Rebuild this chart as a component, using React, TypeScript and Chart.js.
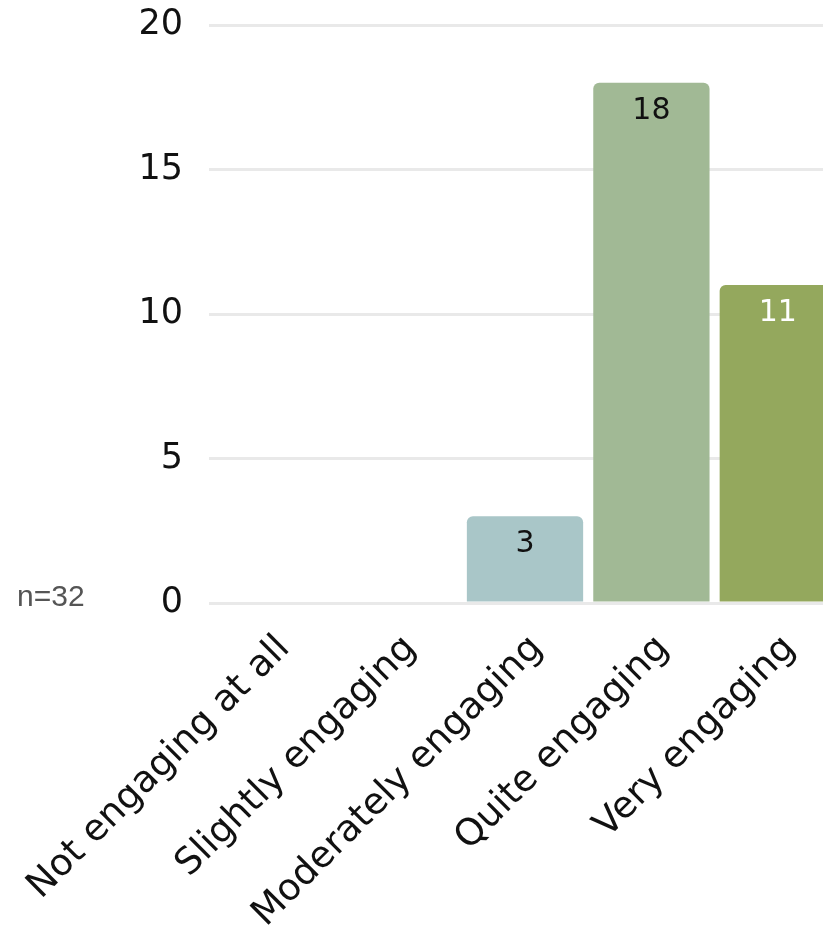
import { useEffect, useRef } from "react";
import { Chart, registerables } from "chart.js";

Chart.register(...registerables);

// Survey responses: how engaging the session was
const categories = [
  "Not engaging at all",
  "Slightly engaging",
  "Moderately engaging",
  "Quite engaging",
  "Very engaging",
];
const counts = [0, 0, 3, 18, 11];
const barColors = ["#a9c6c8", "#a9c6c8", "#a9c6c8", "#a1b995", "#94a85d"];
const valueLabelColors = ["#111111", "#111111", "#111111", "#111111", "#ffffff"];
const yMin = 0;
const yMax = 20;
const yStep = 5;
const sampleNote = "n=32";

const FONT = "'DejaVu Sans', Lato, sans-serif";

// Writes each bar's count just inside the top of the bar
const valueLabels = {
  id: "valueLabels",
  afterDatasetsDraw(chart: any) {
    const { ctx } = chart;
    const meta = chart.getDatasetMeta(0);
    ctx.save();
    ctx.font = `30px ${FONT}`;
    ctx.textAlign = "center";
    ctx.textBaseline = "middle";
    meta.data.forEach((bar: any, i: number) => {
      const v = counts[i];
      if (!v) return;
      ctx.fillStyle = valueLabelColors[i];
      ctx.fillText(String(v), bar.x, bar.y + 28);
    });
    ctx.restore();
  },
};

// Sample size note beside the zero line
const sampleSize = {
  id: "sampleSize",
  afterDraw(chart: any) {
    const { ctx } = chart;
    const y = chart.scales.y.getPixelForValue(0);
    ctx.save();
    ctx.font = `30px 'Liberation Sans', Arial, sans-serif`;
    ctx.fillStyle = "#555555";
    ctx.textAlign = "left";
    ctx.textBaseline = "middle";
    ctx.fillText(sampleNote, 17, y - 5);
    ctx.restore();
  },
};

export default function App() {
  const canvasRef = useRef<HTMLCanvasElement | null>(null);

  useEffect(() => {
    if (!canvasRef.current) return;
    const chart = new Chart(canvasRef.current, {
      type: "bar",
      data: {
        labels: categories,
        datasets: [
          {
            data: counts,
            backgroundColor: barColors,
            borderRadius: 6,
            barPercentage: 0.92,
            categoryPercentage: 1,
          },
        ],
      },
      options: {
        responsive: false,
        animation: false,
        layout: { padding: { top: 25, right: 4, left: 0, bottom: 0 } },
        plugins: {
          legend: { display: false },
          tooltip: { enabled: false },
        },
        scales: {
          x: {
            grid: { display: false },
            border: { display: false },
            ticks: {
              autoSkip: false,
              minRotation: 45,
              maxRotation: 45,
              padding: 16,
              labelOffset: 12,
              color: "#111111",
              font: { family: FONT, size: 37 },
            },
            afterFit(scale: any) {
              scale.height = 341;
              // long rotated labels may run past the left edge of the plot
              scale.paddingLeft = 0;
              scale.paddingRight = 0;
            },
          },
          y: {
            min: yMin,
            max: yMax,
            border: { display: false },
            grid: {
              color: "#e9e9e9",
              lineWidth: 3,
              drawTicks: true,
              tickLength: 26,
              tickColor: "rgba(0,0,0,0)",
            },
            ticks: {
              stepSize: yStep,
              padding: 0,
              color: "#111111",
              font: { family: FONT, size: 35 },
            },
            afterFit(scale: any) {
              scale.width = 209;
            },
          },
        },
      },
      plugins: [valueLabels, sampleSize],
    });
    return () => chart.destroy();
  }, []);

  return (
    <div
      style={{
        position: "fixed",
        left: 0,
        top: 0,
        width: 823,
        height: 944,
        overflow: "hidden",
        background: "#ffffff",
      }}
    >
      <canvas ref={canvasRef} width={845} height={944} style={{ display: "block" }} />
    </div>
  );
}
